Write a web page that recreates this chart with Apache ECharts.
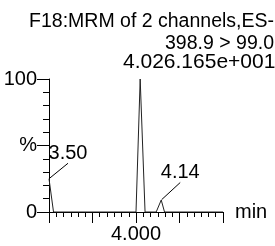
<!DOCTYPE html>
<html>
<head>
<meta charset="utf-8">
<script src="https://cdn.jsdelivr.net/npm/echarts@6/dist/echarts.min.js"></script>
<style>
html, body { margin: 0; padding: 0; background: #fff; }
#chart { width: 275px; height: 246px; }
</style>
</head>
<body>
<div id="chart"></div>
<script>
// retention time (min) and relative intensity (%)
const times = [3.50, 3.526, 4.00, 4.024, 4.052, 4.116, 4.145, 4.164, 4.50];
const intensity = [25, 0, 0, 100, 0, 0, 9, 0, 0];
// peak annotations, same order as the points
const peakText = ["3.50", "", "", "4.026.165e+001", "", "", "4.14", "", ""];
const titleLines = ["F18:MRM of 2 channels,ES-", "398.9 > 99.0"];

const FONT = "Liberation Sans";
const FS = 20;

// label nudges (px) for each annotated peak
const labelShift = {
  "3.50": [19, -10],
  "4.14": [19, -12],
  "4.026.165e+001": [59, -1],
};

const chart = echarts.init(document.getElementById("chart"));

const seriesData = times.map((t, i) => {
  const txt = peakText[i];
  return {
    value: [t, intensity[i]],
    label: {
      show: txt !== "",
      formatter: txt,
      fontSize: txt.indexOf("e+") >= 0 ? 21 : FS,
    },
    labelLine: { show: txt !== "" && txt.indexOf("e+") < 0 },
  };
});

const option = {
  animation: false,
  graphic: titleLines.map((t, i) => ({
    type: "text",
    right: 1,
    top: 12 + i * 22,
    style: {
      text: t,
      font: "19.5px " + FONT,
      fill: "#000",
    },
  })),
  grid: { left: 49, right: 52, top: 79, bottom: 34 },
  xAxis: {
    type: "value",
    min: 3.5,
    max: 4.5,
    interval: 0.25,
    name: "min",
    nameLocation: "end",
    nameGap: 12,
    nameTextStyle: { fontFamily: FONT, fontSize: FS, color: "#000", verticalAlign: "middle" },
    axisLine: { lineStyle: { color: "#000", width: 1 } },
    axisTick: { show: true, length: 11, lineStyle: { color: "#000" } },
    minorTick: { show: true, splitNumber: 6, length: 5, lineStyle: { color: "#000" } },
    splitLine: { show: false },
    axisLabel: {
      margin: 12,
      fontFamily: FONT,
      fontSize: FS,
      color: "#000",
      formatter: (v) => (Math.abs(v - 4) < 1e-9 ? "4.000" : ""),
    },
  },
  yAxis: {
    type: "value",
    min: 0,
    max: 100,
    interval: 50,
    axisLine: { show: true, lineStyle: { color: "#000", width: 1 } },
    axisTick: { show: true, length: 12, lineStyle: { color: "#000" } },
    minorTick: { show: true, splitNumber: 5, length: 6, lineStyle: { color: "#000" } },
    splitLine: { show: false },
    axisLabel: {
      margin: 12,
      fontFamily: FONT,
      fontSize: FS,
      color: "#000",
      formatter: (v) => (v === 50 ? "%" : String(v)),
    },
  },
  series: [
    {
      type: "line",
      data: seriesData,
      symbol: "circle",
      symbolSize: 1,
      showSymbol: true,
      lineStyle: { color: "#222", width: 1 },
      itemStyle: { color: "rgba(0,0,0,0)", borderWidth: 0 },
      label: {
        position: "top",
        distance: 5,
        fontFamily: FONT,
        fontSize: FS,
        color: "#000",
      },
      labelLine: { lineStyle: { color: "#000", width: 1 } },
      labelLayout: (params) => {
        const txt = peakText[params.dataIndex];
        const s = labelShift[txt];
        return s ? { dx: s[0], dy: s[1] } : {};
      },
    },
  ],
};

chart.setOption(option);
</script>
</body>
</html>
